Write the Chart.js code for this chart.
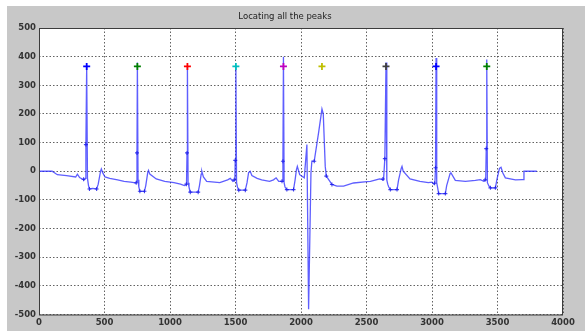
<!DOCTYPE html>
<html>
<head>
<meta charset="utf-8">
<script src="https://cdn.jsdelivr.net/npm/chart.js@4/dist/chart.umd.min.js"></script>
<style>
  html, body { margin: 0; padding: 0; background: #ffffff; }
  #wrap { position: relative; width: 585px; height: 331px; }
</style>
</head>
<body>
<div id="wrap"><canvas id="peaks-chart" width="585" height="331"></canvas></div>
<script>
// ECG trace (sample index, amplitude)
const signalX = [0, 100, 140, 210, 280, 293, 310, 330, 345, 352, 358, 364, 370, 378, 385, 410, 440, 452, 470, 476, 486, 504, 540, 600, 650, 700, 725,
  740, 745, 748, 751, 756, 762, 770, 805, 815, 830, 836, 846, 895, 960, 1030, 1080, 1110, 1120,
  1126, 1130, 1133, 1138, 1145, 1155, 1215, 1225, 1238, 1243, 1255, 1280, 1380, 1440, 1460, 1480, 1495,
  1498, 1503, 1508, 1515, 1525, 1575, 1588, 1600, 1612, 1625, 1665, 1700, 1760, 1790, 1810, 1830, 1855,
  1862, 1866, 1871, 1878, 1892, 1943, 1955, 1965, 1972, 1990, 2025, 2045, 2058, 2076, 2083, 2101, 2134, 2160, 2170, 2185, 2193, 2236, 2274, 2325, 2401, 2504, 2530, 2580, 2600,
  2630, 2640, 2649, 2655, 2662, 2670, 2682, 2733, 2745, 2765, 2771, 2780, 2832, 2908, 2972, 3000, 3015, 3022,
  3027, 3031, 3036, 3044, 3051, 3102, 3112, 3138, 3145, 3178, 3255, 3331, 3369, 3395, 3410,
  3414, 3418, 3423, 3435, 3446, 3484, 3495, 3515, 3527, 3540, 3560, 3637, 3688, 3700, 3702, 3800];
const signalY = [0, 0, -12, -15, -20, -10, -22, -27, -30, -25, 93, 366, -25, -50, -62, -60, -62, -45, 0, 8, -5, -20, -25, -30, -35, -38, -40,
  -42, -35, 64, 380, -30, -55, -70, -70, -50, -5, 3, -10, -27, -35, -40, -45, -50, -48,
  -45, 64, 366, -40, -55, -73, -73, -50, -10, 0, -20, -35, -40, -30, -25, -35, -30,
  38, 366, -40, -55, -66, -66, -40, -5, 0, -15, -25, -30, -35, -30, -23, -35, -35,
  35, 400, -40, -55, -64, -64, -30, 5, 17, -12, -23, 93, -482, -6, 35, 35, 134, 217, 200, 17, -17, -46, -52, -52, -41, -36, -35, -29, -27,
  -30, 44, 380, -30, -45, -55, -64, -64, -30, 10, 17, 0, -27, -35, -40, -38, -45, -40,
  12, 395, -40, -60, -78, -78, -50, -8, -6, -32, -35, -32, -29, -35, -30,
  79, 390, -40, -52, -58, -58, -30, 10, 14, -5, -23, -30, -29, -29, 0, 0];

// detected R peaks, one marker per beat
const peakX = [364, 751, 1133, 1503, 1866, 2160, 2649, 3031, 3418];
const peakY = [366, 366, 366, 366, 366, 366, 366, 366, 366];

// small fiducial marks along each complex
const markX = [340, 358, 385, 440, 742, 748, 770, 805, 1125, 1130, 1155, 1215, 1490, 1498, 1525, 1575, 1855, 1862, 1892, 1943,
  2101, 2193, 2236, 2625, 2640, 2682, 2733, 3020, 3027, 3051, 3102, 3405, 3414, 3446, 3484];
const markY = [-28, 93, -62, -62, -40, 64, -70, -70, -45, 64, -73, -73, -30, 38, -66, -66, -35, 35, -64, -64,
  35, -17, -46, -27, 44, -64, -64, -42, 12, -78, -78, -30, 79, -58, -58];

const xTicks = { min: 0, max: 4000, step: 500 };
const yTicks = { min: -500, max: 500, step: 100 };

const peakColors = ['#0000ff', '#008000', '#ff0000', '#00bfbf', '#bf00bf', '#bfbf00', '#404040', '#0000ff', '#008000'];

const toPoints = (xs, ys) => xs.map((x, i) => ({ x: x, y: ys[i] }));

// grey figure background and the axes box
const figureFrame = {
  id: 'figureFrame',
  beforeDraw(chart) {
    const { ctx, chartArea: a } = chart;
    ctx.save();
    ctx.fillStyle = '#c8c8c8';
    ctx.fillRect(7, 6, chart.width - 7, chart.height - 6);
    ctx.fillStyle = '#ffffff';
    ctx.fillRect(a.left, a.top, a.right - a.left, a.bottom - a.top);
    ctx.restore();
  },
  afterDraw(chart) {
    const { ctx, chartArea: a } = chart;
    ctx.save();
    ctx.strokeStyle = '#3c3c3c';
    ctx.lineWidth = 1;
    ctx.strokeRect(a.left + 0.5, a.top + 0.5, a.right - a.left - 1, a.bottom - a.top);
    ctx.restore();
  }
};

const tickFont = { family: 'DejaVu Sans', size: 8.5, weight: 'bold' };
const plainLabel = v => String(v);

const config = {
  type: 'scatter',
  data: {
    datasets: [
      {
        label: 'signal',
        data: toPoints(signalX, signalY),
        showLine: true,
        borderColor: 'rgba(40, 40, 255, 0.75)',
        borderWidth: 1.3,
        pointRadius: 0,
        tension: 0,
        order: 2
      },
      {
        label: 'marks',
        data: toPoints(markX, markY),
        pointStyle: 'cross',
        pointRadius: 2,
        borderColor: 'rgba(20, 20, 230, 0.8)',
        borderWidth: 1.1,
        order: 1
      },
      {
        label: 'peaks',
        data: toPoints(peakX, peakY),
        pointStyle: 'cross',
        pointRadius: 3.5,
        borderWidth: 1.8,
        borderColor: peakColors,
        backgroundColor: peakColors,
        order: 0
      }
    ]
  },
  options: {
    responsive: false,
    animation: false,
    layout: { padding: { left: 7, right: 22, top: 0, bottom: 0 } },
    plugins: {
      legend: { display: false },
      tooltip: { enabled: false },
      title: {
        display: true,
        text: 'Locating all the peaks',
        color: '#222222',
        font: { family: 'DejaVu Sans', size: 8.5, weight: 'normal' },
        padding: { top: 12, bottom: 5.8 }
      }
    },
    scales: {
      x: {
        type: 'linear',
        min: xTicks.min,
        max: xTicks.max,
        afterFit: s => { s.height = 16.5; },
        ticks: { stepSize: xTicks.step, color: '#333333', font: tickFont, padding: 3, maxRotation: 0, callback: plainLabel },
        grid: { color: 'rgba(70, 70, 70, 0.85)', lineWidth: 1, drawTicks: false },
        border: { display: false, dash: [1.5, 2] }
      },
      y: {
        min: yTicks.min,
        max: yTicks.max,
        afterFit: s => { s.width = 32; },
        ticks: { stepSize: yTicks.step, color: '#333333', font: tickFont, padding: 3, callback: plainLabel },
        grid: { color: 'rgba(70, 70, 70, 0.85)', lineWidth: 1, drawTicks: false },
        border: { display: false, dash: [1.5, 2] }
      }
    }
  },
  plugins: [figureFrame]
};

const peaksChart = new Chart(document.getElementById('peaks-chart'), config);
</script>
</body>
</html>
